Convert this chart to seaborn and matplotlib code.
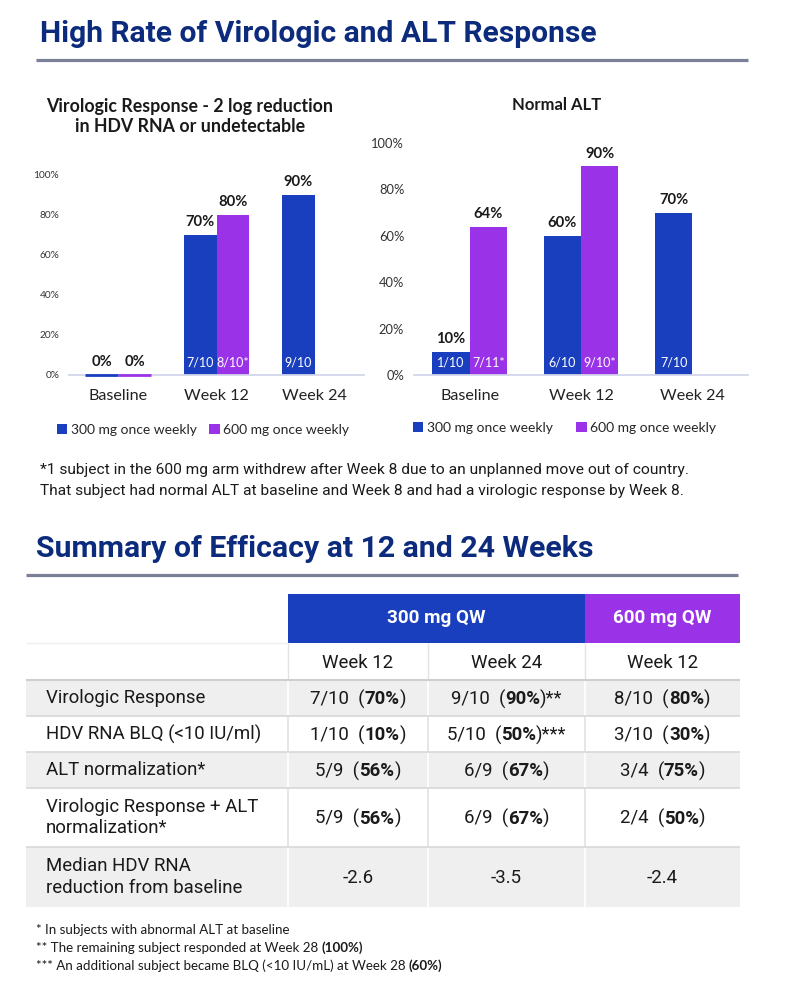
import matplotlib
matplotlib.use("Agg")
import matplotlib.pyplot as plt
import matplotlib.transforms as mtransforms
from matplotlib.patches import Rectangle
from matplotlib.lines import Line2D
import numpy as np
import pandas as pd
import seaborn as sns

# ---- data ----
weeks = ["Baseline", "Week 12", "Week 24"]
doses = ["300 mg once weekly", "600 mg once weekly"]
y_ticks = [0, 20, 40, 60, 80, 100]

vr_300 = [0, 70, 90]
vr_600 = [0, 80, np.nan]
vr_300_n = ["", "7/10", "9/10"]
vr_600_n = ["", "8/10*", ""]

alt_300 = [10, 60, 70]
alt_600 = [64, 90, np.nan]
alt_300_n = ["1/10", "6/10", "7/10"]
alt_600_n = ["7/11*", "9/10*", ""]

tbl_groups = ["300 mg QW", "600 mg QW"]
tbl_weeks = ["Week 12", "Week 24", "Week 12"]
tbl_rows = ["Virologic Response", "HDV RNA BLQ (<10 IU/ml)", "ALT normalization*",
            "Virologic Response + ALT\nnormalization*", "Median HDV RNA\nreduction from baseline"]
tbl_frac = [["7/10", "9/10", "8/10"],
            ["1/10", "5/10", "3/10"],
            ["5/9", "6/9", "3/4"],
            ["5/9", "6/9", "2/4"],
            ["-2.6", "-3.5", "-2.4"]]
tbl_pct = [["70%", "90%", "80%"],
           ["10%", "50%", "30%"],
           ["56%", "67%", "75%"],
           ["56%", "67%", "50%"],
           ["", "", ""]]
tbl_mark = [["", "**", ""],
            ["", "***", ""],
            ["", "", ""],
            ["", "", ""],
            ["", "", ""]]

note_top = ["*1 subject in the 600 mg arm withdrew after Week 8 due to an unplanned move out of country.",
            "That subject had normal ALT at baseline and Week 8 and had a virologic response by Week 8."]
note_bottom = [[("* In subjects with abnormal ALT at baseline", "normal")],
               [("** The remaining subject responded at Week 28", "normal"), (" (100%)", "bold")],
               [("*** An additional subject became BLQ (<10 IU/mL) at Week 28", "normal"), (" (60%)", "bold")]]

BLUE = "#1A3FBE"
PURPLE = "#9A33E8"
NAVY = "#0D2B7C"
RULE = "#7B8099"
TXT = "#1A1A1A"
GREY_ROW = "#EFEFEF"

W, H = 802, 989

sns.set_theme(style="white")
plt.rcParams["font.family"] = ["Lato", "DejaVu Sans"]

fig = plt.figure(figsize=(W / 100, H / 100), dpi=100)
fig.patch.set_facecolor("white")
# pixel coords, origin top-left
PX = mtransforms.Affine2D().scale(1, -1).translate(0, H)
R = fig.canvas.get_renderer()


def axes_px(x0, y0, x1, y1):
    return fig.add_axes([x0 / W, 1 - y1 / H, (x1 - x0) / W, (y1 - y0) / H])


def fit(t, width):
    w = t.get_window_extent(R).width
    t.set_fontsize(t.get_fontsize() * width / w)
    return t.get_fontsize()


def rich(x, y, parts, size, ha="left", color=TXT, family=None):
    objs, widths = [], []
    for s, wt in parts:
        gap = 0
        if s.startswith(" "):
            a = fig.text(0, 0, "a a", fontsize=size, fontweight=wt, family=family)
            b = fig.text(0, 0, "aa", fontsize=size, fontweight=wt, family=family)
            gap = (a.get_window_extent(R).width - b.get_window_extent(R).width) * (len(s) - len(s.lstrip()))
            a.remove(); b.remove()
            s = s.lstrip()
        t = fig.text(0, 0, s, transform=PX, fontsize=size, fontweight=wt, color=color,
                     va="center", ha="left", family=family)
        objs.append((t, gap))
        widths.append(gap + t.get_window_extent(R).width)
    x0 = x - sum(widths) / 2 if ha == "center" else x
    for (t, gap), wd in zip(objs, widths):
        t.set_position((x0 + gap, y))
        x0 += wd


def line_px(x0, x1, y0, y1, color, lw):
    fig.add_artist(Line2D([x0, x1], [y0, y1], transform=PX, color=color, lw=lw,
                          solid_capstyle="butt"))


def bar_chart(ax, v300, v600, n300, n600, tick_size):
    df = pd.DataFrame({"week": weeks + weeks,
                       "dose": [doses[0]] * 3 + [doses[1]] * 3,
                       "pct": list(v300) + list(v600)}).dropna()
    sns.barplot(data=df, x="week", y="pct", hue="dose", order=weeks, hue_order=doses,
                palette=[BLUE, PURPLE], saturation=1, width=0.67, errorbar=None,
                linewidth=0, ax=ax)
    for cont, fracs in zip(ax.containers, [n300, n600]):
        for bar in cont:
            h = bar.get_height()
            cx = bar.get_x() + bar.get_width() / 2
            if h == 0:
                # zero bars still show as a thin strip on the baseline
                bar.set_linewidth(2.0)
                bar.set_edgecolor(bar.get_facecolor())
                bar.set_clip_on(False)
                bar.set_zorder(5)
            ax.annotate(f"{h:.0f}%", (cx, h), xytext=(0, 4), textcoords="offset points",
                        ha="center", va="bottom", fontsize=10.6, fontweight="bold",
                        color=TXT, annotation_clip=False)
            lab = fracs[int(round(cx))]
            if lab:
                ax.annotate(lab, (cx, 0), xytext=(0, 9), textcoords="offset points",
                            ha="center", va="center", fontsize=9.0, color="white")
    ax.set_xlim(-0.5, 2.5)
    ax.set_ylim(0, 100)
    ax.set_yticks(y_ticks)
    ax.set_yticklabels([f"{t}%" for t in y_ticks])
    ax.set_xlabel("")
    ax.set_ylabel("")
    for s in ["top", "right", "left"]:
        ax.spines[s].set_visible(False)
    ax.spines["bottom"].set_color("#D3D6EA")
    ax.spines["bottom"].set_linewidth(1.3)
    ax.tick_params(axis="y", length=0, pad=7, labelsize=tick_size, labelcolor="#333333")
    ax.tick_params(axis="x", length=0, pad=10, labelsize=11.6, labelcolor="#222222")
    ax.set_facecolor("none")
    leg = ax.get_legend()
    handles = leg.legend_handles
    labels = [t.get_text() for t in leg.get_texts()]
    leg.remove()
    return handles, labels


# ---- section 1 ----
t = fig.text(40, 34, "High Rate of Virologic and ALT Response", transform=PX, family="Roboto",
             fontweight="bold", fontsize=20, color=NAVY, va="center", ha="left")
fit(t, 556)
line_px(36, 748, 60, 60, RULE, 2.3)

fig.text(190, 116.5, "Virologic Response - 2 log reduction\nin HDV RNA or undetectable", transform=PX,
         fontsize=12.8, fontweight="bold", color=TXT, ha="center", va="center", linespacing=1.2)
fig.text(557, 105, "Normal ALT", transform=PX, fontsize=12, fontweight="bold", color=TXT,
         ha="center", va="center")

ax1 = axes_px(69, 175, 364, 375)
h1, l1 = bar_chart(ax1, vr_300, vr_600, vr_300_n, vr_600_n, 7.3)
ax1.legend(h1, l1, ncol=2, loc="center left", bbox_to_anchor=(57, 430), bbox_transform=PX,
           frameon=False, fontsize=10, handlelength=0.75, handleheight=0.75,
           handletextpad=0.25, columnspacing=0.9, borderpad=0, borderaxespad=0)

ax2 = axes_px(414, 143, 748, 375)
h2, l2 = bar_chart(ax2, alt_300, alt_600, alt_300_n, alt_600_n, 9.3)
ax2.legend(h2, l2, ncol=2, loc="center left", bbox_to_anchor=(413, 428), bbox_transform=PX,
           frameon=False, fontsize=10, handlelength=0.75, handleheight=0.75,
           handletextpad=0.25, columnspacing=1.7, borderpad=0, borderaxespad=0)

t = fig.text(40, 470, note_top[0], transform=PX, family="Roboto", fontsize=10, color=TXT,
             va="center", ha="left")
fs = fit(t, 646)
fig.text(40, 491, note_top[1], transform=PX, family="Roboto", fontsize=fs, color=TXT,
         va="center", ha="left")

# ---- section 2 ----
t = fig.text(36, 549, "Summary of Efficacy at 12 and 24 Weeks", transform=PX, family="Roboto",
             fontweight="bold", fontsize=20, color=NAVY, va="center", ha="left")
fit(t, 556)
line_px(26, 738, 575, 575, RULE, 2.3)

col_x = [26, 288, 428, 585, 740]
row_y = [594, 643, 680, 716, 752, 788, 847, 907]
TF = "Roboto"
TS = 13.4

fig.add_artist(Rectangle((col_x[1], row_y[0]), col_x[3] - col_x[1], row_y[1] - row_y[0],
                         transform=PX, facecolor=BLUE, edgecolor="none"))
fig.add_artist(Rectangle((col_x[3], row_y[0]), col_x[4] - col_x[3], row_y[1] - row_y[0],
                         transform=PX, facecolor=PURPLE, edgecolor="none"))
fig.text((col_x[1] + col_x[3]) / 2, 618, tbl_groups[0], transform=PX, family=TF, fontsize=13.6,
         fontweight="bold", color="white", ha="center", va="center")
fig.text((col_x[3] + col_x[4]) / 2, 618, tbl_groups[1], transform=PX, family=TF, fontsize=13.6,
         fontweight="bold", color="white", ha="center", va="center")
line_px(col_x[0], col_x[1], row_y[1], row_y[1], "#F0F0F0", 1)

for j, wk in enumerate(tbl_weeks):
    fig.text((col_x[j + 1] + col_x[j + 2]) / 2, 663, wk, transform=PX, family=TF, fontsize=TS,
             color=TXT, ha="center", va="center")
    line_px(col_x[j + 1], col_x[j + 1], row_y[1], row_y[2], "#E2E2E2", 1)

for i, lab in enumerate(tbl_rows):
    y0, y1 = row_y[2 + i], row_y[3 + i]
    grey = i % 2 == 0
    if grey:
        fig.add_artist(Rectangle((col_x[0], y0), col_x[4] - col_x[0], y1 - y0, transform=PX,
                                 facecolor=GREY_ROW, edgecolor="none"))
    for j in range(1, 4):
        line_px(col_x[j], col_x[j], y0, y1, "white" if grey else "#E2E2E2", 1.2)
    yc = (y0 + y1) / 2
    fig.text(46, yc, lab, transform=PX, family=TF, fontsize=TS, color=TXT, ha="left",
             va="center", linespacing=1.25)
    for j in range(3):
        xc = (col_x[j + 1] + col_x[j + 2]) / 2
        if tbl_pct[i][j]:
            parts = [(tbl_frac[i][j] + "  (", "normal"), (tbl_pct[i][j], "bold"),
                     (")" + tbl_mark[i][j], "normal")]
        else:
            parts = [(tbl_frac[i][j], "normal")]
        rich(xc, yc + 1, parts, TS, ha="center", family=TF)

line_px(col_x[0], col_x[4], row_y[2], row_y[2], "#CFCFCF", 1.5)
for k in range(3, 7):
    line_px(col_x[0], col_x[4], row_y[k], row_y[k], "#D8D8D8", 1.2)

t = fig.text(36, 930, note_bottom[0][0][0], transform=PX, fontsize=9, color=TXT)
fs = fit(t, 254)
t.remove()
for k, parts in enumerate(note_bottom):
    rich(36, 930 + 18 * k, parts, fs, ha="left", color=TXT)

fig.savefig("out.png", dpi=100, facecolor="white")
